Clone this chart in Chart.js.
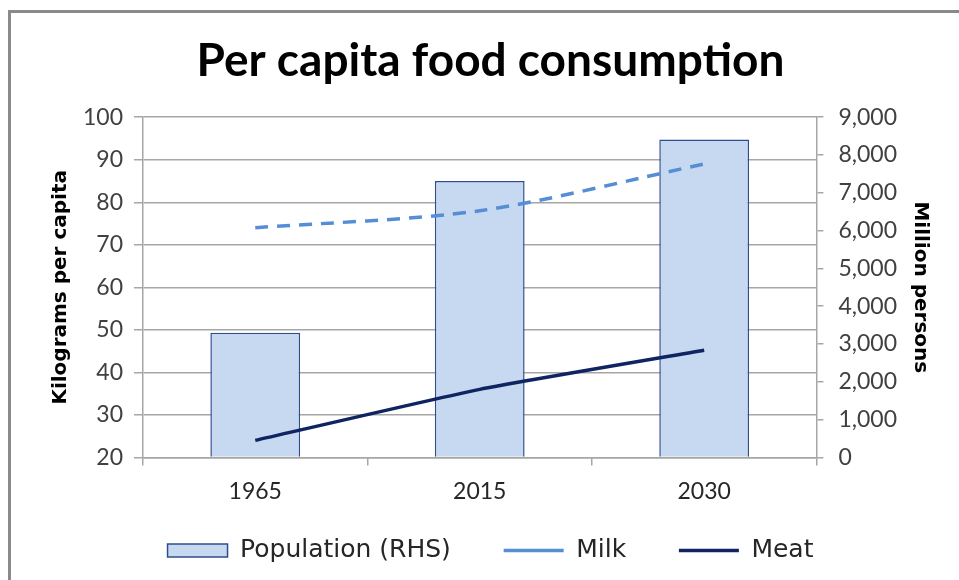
<!DOCTYPE html>
<html lang="en">
<head>
    <meta charset="UTF-8">
    <title>Per capita food consumption</title>
    <style>
        body {
            margin: 0;
            background: #ffffff;
        }
        .wrap {
            position: relative;
            width: 959px;
            height: 580px;
        }
        /* frame on the left and top, like the original export */
        .wrap::before {
            content: '';
            position: absolute;
            left: 8px;
            top: 10px;
            right: 0;
            bottom: 0;
            border-left: 3px solid #8a8a8a;
            border-top: 3px solid #8a8a8a;
        }
        canvas {
            position: relative;
        }
    </style>
</head>
<body>
    <div class="wrap">
        <canvas id="myChart" width="959" height="580"></canvas>
    </div>

    <script src="https://cdn.jsdelivr.net/npm/chart.js"></script>
    <script>
        const years = ['1965', '2015', '2030'];
        const population = [3300, 7310, 8410];   // million persons (RHS)
        const milk = [74, 78, 89];               // kg per capita
        const meat = [24, 36, 45.2];             // kg per capita

        const leftTicks = [20, 100, 10];         // min, max, step
        const rightTicks = [0, 9000, 1000];

        Chart.defaults.font.family = "Lato, 'Noto Sans', sans-serif";
        Chart.defaults.color = '#404040';

        const gridColor = '#a6a6a6';
        const axisTitleFont = { family: "'DejaVu Sans', sans-serif", size: 20, weight: 'bold' };

        // legend padding is also the vertical gap, so widen the items with trailing spaces
        function legendLabels(chart) {
            const items = Chart.defaults.plugins.legend.labels.generateLabels(chart);
            const last = chart.data.datasets.length - 1;
            items.forEach(item => {
                if (item.datasetIndex < last) item.text += '    ';
            });
            return items;
        }

        const ctx = document.getElementById('myChart').getContext('2d');
        const chart = new Chart(ctx, {
            type: 'bar',
            data: {
                labels: years,
                datasets: [{
                    type: 'bar',
                    label: 'Population (RHS)',
                    data: population,
                    yAxisID: 'y1',
                    backgroundColor: '#c6d9f0',
                    borderColor: '#2f4d8f',
                    borderWidth: 1.5,
                    categoryPercentage: 1,
                    barPercentage: 0.4,
                    pointStyle: 'rect',
                    order: 2
                }, {
                    type: 'line',
                    label: 'Milk',
                    data: milk,
                    yAxisID: 'y',
                    borderColor: '#558ed5',
                    backgroundColor: '#558ed5',
                    borderWidth: 3.5,
                    borderDash: [13, 9],
                    tension: 0.3,
                    pointRadius: 0,
                    pointStyle: 'line',
                    fill: false,
                    order: 1
                }, {
                    type: 'line',
                    label: 'Meat',
                    data: meat,
                    yAxisID: 'y',
                    borderColor: '#0f2461',
                    backgroundColor: '#0f2461',
                    borderWidth: 3.5,
                    tension: 0.15,
                    pointRadius: 0,
                    pointStyle: 'line',
                    fill: false,
                    order: 0
                }]
            },
            options: {
                responsive: false,
                animation: false,
                layout: {
                    padding: { left: 49, right: 27, top: 34, bottom: 7 }
                },
                plugins: {
                    title: {
                        display: true,
                        text: 'Per capita food consumption',
                        color: '#000000',
                        font: { size: 46, weight: 'bold' },
                        padding: { top: 0, bottom: 28 }
                    },
                    legend: {
                        position: 'bottom',
                        labels: {
                            usePointStyle: true,
                            pointStyleWidth: 60,
                            boxWidth: 60,
                            boxHeight: 13,
                            padding: 21,
                            color: '#262626',
                            font: { family: "'DejaVu Sans', sans-serif", size: 25 },
                            sort: (a, b) => a.datasetIndex - b.datasetIndex,
                            generateLabels: legendLabels
                        }
                    },
                    tooltip: { enabled: false }
                },
                scales: {
                    x: {
                        offset: true,
                        grid: {
                            offset: true,
                            drawOnChartArea: false,
                            drawTicks: true,
                            tickLength: 8,
                            color: gridColor,
                            lineWidth: 1.5
                        },
                        border: { color: gridColor, width: 1.5 },
                        ticks: {
                            color: '#262626',
                            font: { size: 23 },
                            padding: 12
                        }
                    },
                    y: {
                        position: 'left',
                        min: leftTicks[0],
                        max: leftTicks[1],
                        ticks: {
                            stepSize: leftTicks[2],
                            color: '#404040',
                            font: { size: 23 },
                            padding: 11
                        },
                        grid: {
                            color: gridColor,
                            lineWidth: 1.5,
                            tickLength: 9
                        },
                        border: { color: gridColor, width: 1.5 },
                        title: {
                            display: true,
                            text: 'Kilograms per capita',
                            color: '#000000',
                            font: axisTitleFont,
                            padding: { top: 0, bottom: -1 }
                        }
                    },
                    y1: {
                        position: 'right',
                        min: rightTicks[0],
                        max: rightTicks[1],
                        ticks: {
                            stepSize: rightTicks[2],
                            color: '#404040',
                            font: { size: 23 },
                            padding: 15,
                            callback: v => v.toLocaleString('en-US')
                        },
                        grid: {
                            drawOnChartArea: false,
                            color: gridColor,
                            lineWidth: 1.5,
                            tickLength: 7
                        },
                        border: { color: gridColor, width: 1.5 },
                        title: {
                            display: true,
                            text: 'Million persons',
                            color: '#000000',
                            font: axisTitleFont,
                            padding: { top: 0, bottom: -4 }
                        }
                    }
                }
            }
        });
    </script>
</body>
</html>
